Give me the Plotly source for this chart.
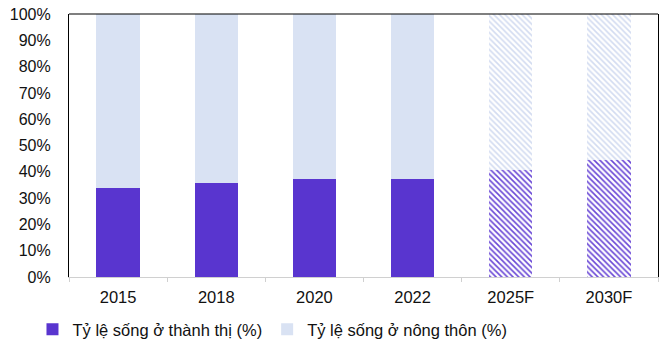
import plotly.graph_objects as go

years = ["2015", "2018", "2020", "2022", "2025F", "2030F"]
urban = [33.8, 35.6, 37.3, 37.3, 40.7, 44.5]
rural = [66.2, 64.4, 62.7, 62.7, 59.3, 55.5]
forecast = [False, False, False, False, True, True]

urban_name = "Tỷ lệ sống ở thành thị (%)"
rural_name = "Tỷ lệ sống ở nông thôn (%)"

PURPLE = "#5935CF"
LIGHT = "#D9E2F3"

shapes_u = ["\\" if f else "" for f in forecast]

fig = go.Figure()
fig.add_trace(go.Bar(
    x=years, y=urban, name=urban_name,
    marker=dict(color=PURPLE, line=dict(width=0),
                pattern=dict(shape=shapes_u, fillmode="replace",
                             bgcolor=["white"] * 6, fgcolor=["#6A48D6"] * 6,
                             size=4, solidity=0.4)),
))
fig.add_trace(go.Bar(
    x=years, y=rural, name=rural_name,
    marker=dict(color=LIGHT, line=dict(width=0),
                pattern=dict(shape=shapes_u, fillmode="replace",
                             bgcolor=["white"] * 6, fgcolor=["#D3DCF1"] * 6,
                             size=4, solidity=0.4)),
))

fig.update_layout(
    barmode="stack",
    bargap=0.56,
    width=669, height=349,
    margin=dict(l=69, r=11, t=14, b=72, autoexpand=False),
    paper_bgcolor="white", plot_bgcolor="white",
    font=dict(family="Liberation Sans, Arial, sans-serif", color="#222222"),
    showlegend=True,
    legend=dict(orientation="h", x=-0.062, xanchor="left", y=-0.2, yanchor="middle",
                font=dict(size=16.5, color="#111111"), traceorder="normal",
                itemwidth=30, tracegroupgap=0),
    xaxis=dict(showline=True, linecolor="#D0D0D0", linewidth=1,
               ticks="outside", tickson="boundaries", ticklen=4, tickcolor="#D0D0D0",
               ticklabelstandoff=5,
               tickfont=dict(size=16.5, color="#111111"), showgrid=False),
    yaxis=dict(range=[0, 100], dtick=10, ticksuffix="%", showgrid=False,
               showline=True, linecolor="black", linewidth=1.2, mirror=True,
               ticks="", ticklabelstandoff=14, zeroline=False,
               tickfont=dict(size=16, color="#111111")),
    shapes=[dict(type="line", xref="paper", yref="paper", x0=0, x1=1, y0=1, y1=1,
                 line=dict(color="black", width=1.2))],
)

fig.write_html("out.html")
